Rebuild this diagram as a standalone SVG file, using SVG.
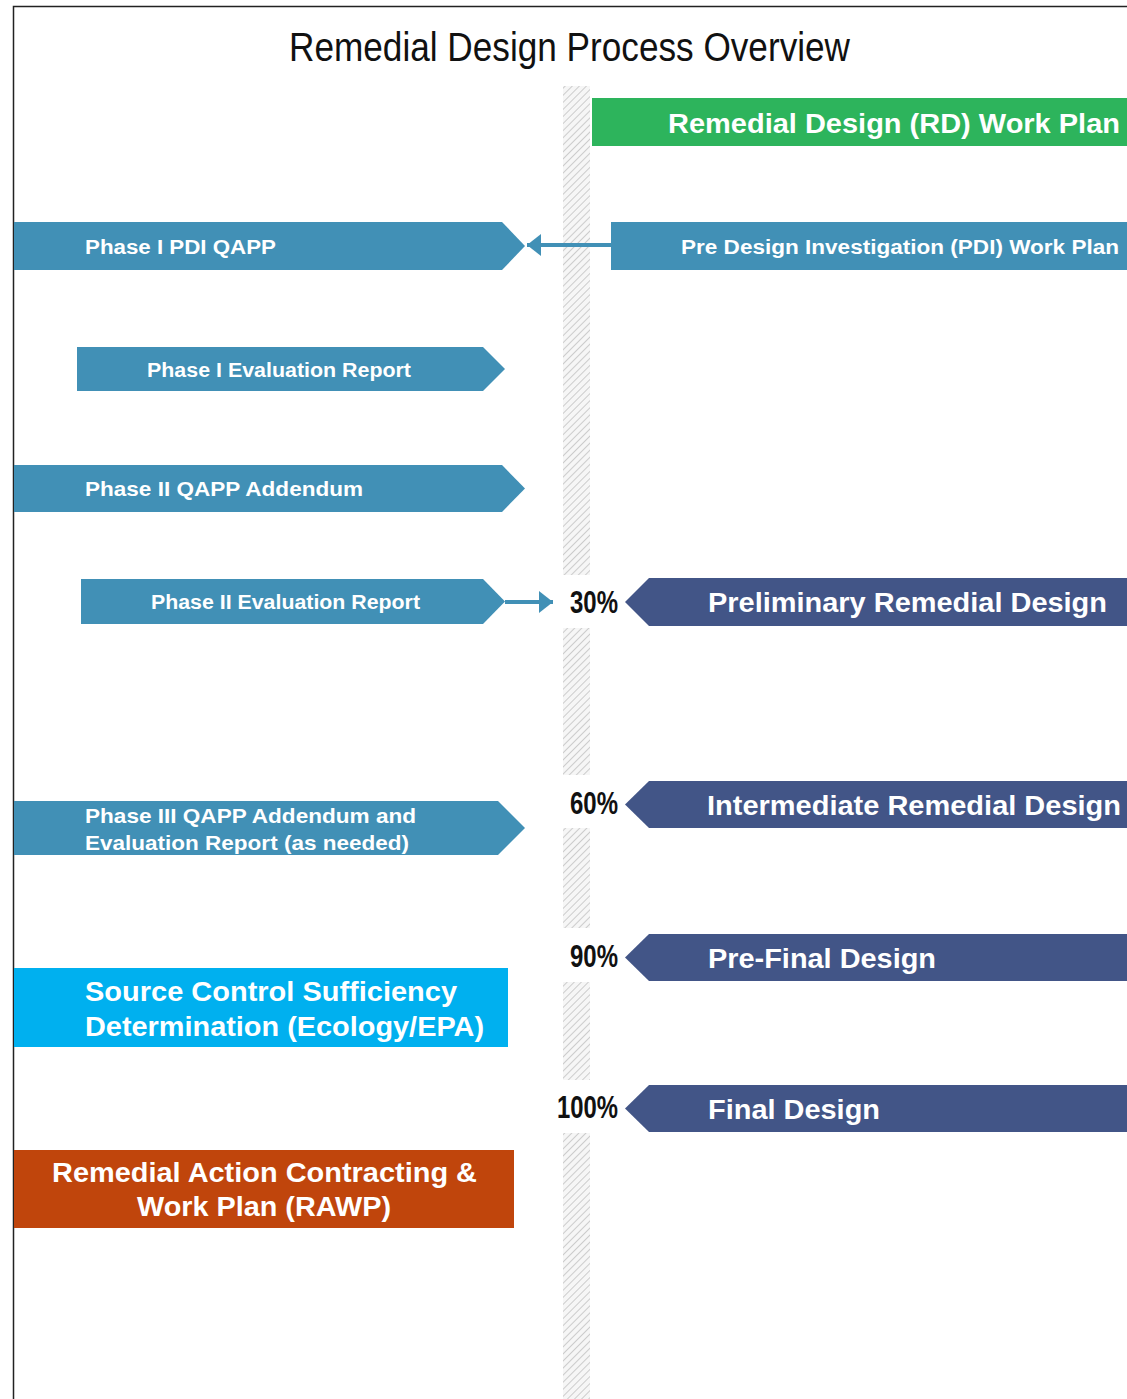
<svg xmlns="http://www.w3.org/2000/svg" width="1127" height="1399" viewBox="0 0 1127 1399">
  <style>
    .t { font-family: "Liberation Sans", Arial, sans-serif; font-weight: bold; fill: #ffffff; }
    .pct { font-family: "Liberation Sans Narrow", "Liberation Sans", Arial, sans-serif; font-weight: bold; fill: #111111; font-size: 31px; }
    .lb { fill: #4190b6; }
    .nv { fill: #425587; }
    .link { stroke: #4190b6; stroke-width: 4; fill: none; }
  </style>
  <defs>
    <pattern id="hatch" patternUnits="userSpaceOnUse" width="5" height="5" patternTransform="rotate(45)">
      <rect width="5" height="5" fill="#f6f6f6"/>
      <line x1="0" y1="0" x2="0" y2="5" stroke="#c2c2c2" stroke-width="1.6"/>
    </pattern>
    <marker id="head" markerUnits="userSpaceOnUse" markerWidth="16" markerHeight="24" refX="14" refY="11" orient="auto">
      <path d="M0,0 L14,11 L0,22 Z" fill="#4190b6"/>
    </marker>
  </defs>

  <rect width="1127" height="1399" fill="#ffffff"/>
  <!-- page frame -->
  <rect x="13.5" y="6.5" width="1200" height="1500" fill="none" stroke="#222222" stroke-width="1.5"/>

  <!-- title -->
  <text x="569.5" y="61" text-anchor="middle" font-family="Liberation Sans, Arial, sans-serif" font-size="40" fill="#111111" textLength="561" lengthAdjust="spacingAndGlyphs">Remedial Design Process Overview</text>

  <!-- central timeline bar, broken at the milestones -->
  <g id="timeline" fill="url(#hatch)">
    <rect x="563" y="86" width="27" height="489"/>
    <rect x="563" y="628" width="27" height="147"/>
    <rect x="563" y="828" width="27" height="100"/>
    <rect x="563" y="982" width="27" height="98"/>
    <rect x="563" y="1133" width="27" height="270"/>
  </g>

  <!-- right column -->
  <g id="rd-work-plan">
    <rect x="592" y="98" width="540" height="48" fill="#2db45c"/>
    <text class="t" x="668" y="133" font-size="27" textLength="452" lengthAdjust="spacingAndGlyphs">Remedial Design (RD) Work Plan</text>
  </g>
  <g id="pdi-work-plan">
    <rect class="lb" x="611" y="222" width="520" height="48"/>
    <text class="t" x="681" y="254" font-size="20" textLength="438" lengthAdjust="spacingAndGlyphs">Pre Design Investigation (PDI) Work Plan</text>
  </g>
  <g id="preliminary-design">
    <polygon class="nv" points="625,602 649,578 1131,578 1131,626 649,626"/>
    <text class="t" x="708" y="612" font-size="27" textLength="399" lengthAdjust="spacingAndGlyphs">Preliminary Remedial Design</text>
  </g>
  <g id="intermediate-design">
    <polygon class="nv" points="625,804.5 649,781 1131,781 1131,828 649,828"/>
    <text class="t" x="707" y="815" font-size="27" textLength="414" lengthAdjust="spacingAndGlyphs">Intermediate Remedial Design</text>
  </g>
  <g id="prefinal-design">
    <polygon class="nv" points="625,957.5 649,934 1131,934 1131,981 649,981"/>
    <text class="t" x="708" y="968" font-size="27" textLength="228" lengthAdjust="spacingAndGlyphs">Pre-Final Design</text>
  </g>
  <g id="final-design">
    <polygon class="nv" points="625,1108.5 649,1085 1131,1085 1131,1132 649,1132"/>
    <text class="t" x="708" y="1119" font-size="27" textLength="172" lengthAdjust="spacingAndGlyphs">Final Design</text>
  </g>

  <!-- milestone percentages -->
  <g id="milestones">
    <text class="pct" x="618" y="613" text-anchor="end" textLength="48" lengthAdjust="spacingAndGlyphs">30%</text>
    <text class="pct" x="618" y="814" text-anchor="end" textLength="48" lengthAdjust="spacingAndGlyphs">60%</text>
    <text class="pct" x="618" y="967" text-anchor="end" textLength="48" lengthAdjust="spacingAndGlyphs">90%</text>
    <text class="pct" x="618" y="1118" text-anchor="end" textLength="61" lengthAdjust="spacingAndGlyphs">100%</text>
  </g>

  <!-- left column -->
  <g id="phase1-qapp">
    <polygon class="lb" points="14,222 502,222 525,246 502,270 14,270"/>
    <text class="t" x="85" y="254" font-size="20" textLength="191" lengthAdjust="spacingAndGlyphs">Phase I PDI QAPP</text>
  </g>
  <g id="phase1-eval">
    <polygon class="lb" points="77,347 483,347 505,369 483,391 77,391"/>
    <text class="t" x="147" y="377" font-size="20" textLength="264" lengthAdjust="spacingAndGlyphs">Phase I Evaluation Report</text>
  </g>
  <g id="phase2-qapp">
    <polygon class="lb" points="14,465 502,465 525,488.5 502,512 14,512"/>
    <text class="t" x="85" y="496" font-size="21" textLength="278" lengthAdjust="spacingAndGlyphs">Phase II QAPP Addendum</text>
  </g>
  <g id="phase2-eval">
    <polygon class="lb" points="81,579 483,579 505,601.5 483,624 81,624"/>
    <text class="t" x="151" y="609" font-size="20" textLength="269" lengthAdjust="spacingAndGlyphs">Phase II Evaluation Report</text>
  </g>
  <g id="phase3">
    <polygon class="lb" points="14,801 498,801 525,828 498,855 14,855"/>
    <text class="t" x="85" y="823" font-size="21" textLength="331" lengthAdjust="spacingAndGlyphs">Phase III QAPP Addendum and</text>
    <text class="t" x="85" y="850" font-size="21" textLength="324" lengthAdjust="spacingAndGlyphs">Evaluation Report (as needed)</text>
  </g>
  <g id="source-control">
    <rect x="14" y="968" width="494" height="79" fill="#00b0ef"/>
    <text class="t" x="85" y="1001" font-size="27" textLength="372" lengthAdjust="spacingAndGlyphs">Source Control Sufficiency</text>
    <text class="t" x="85" y="1036" font-size="27" textLength="399" lengthAdjust="spacingAndGlyphs">Determination (Ecology/EPA)</text>
  </g>
  <g id="rawp">
    <rect x="14" y="1150" width="500" height="78" fill="#c0450c"/>
    <text class="t" x="52" y="1182" font-size="27" textLength="425" lengthAdjust="spacingAndGlyphs">Remedial Action Contracting &amp;</text>
    <text class="t" x="137" y="1216" font-size="27" textLength="254" lengthAdjust="spacingAndGlyphs">Work Plan (RAWP)</text>
  </g>

  <!-- connectors -->
  <g id="connectors">
    <line class="link" x1="611" y1="245" x2="527" y2="245" marker-end="url(#head)"/>
    <line class="link" x1="505" y1="602" x2="553" y2="602" stroke-width="3" marker-end="url(#head)"/>
  </g>
</svg>
